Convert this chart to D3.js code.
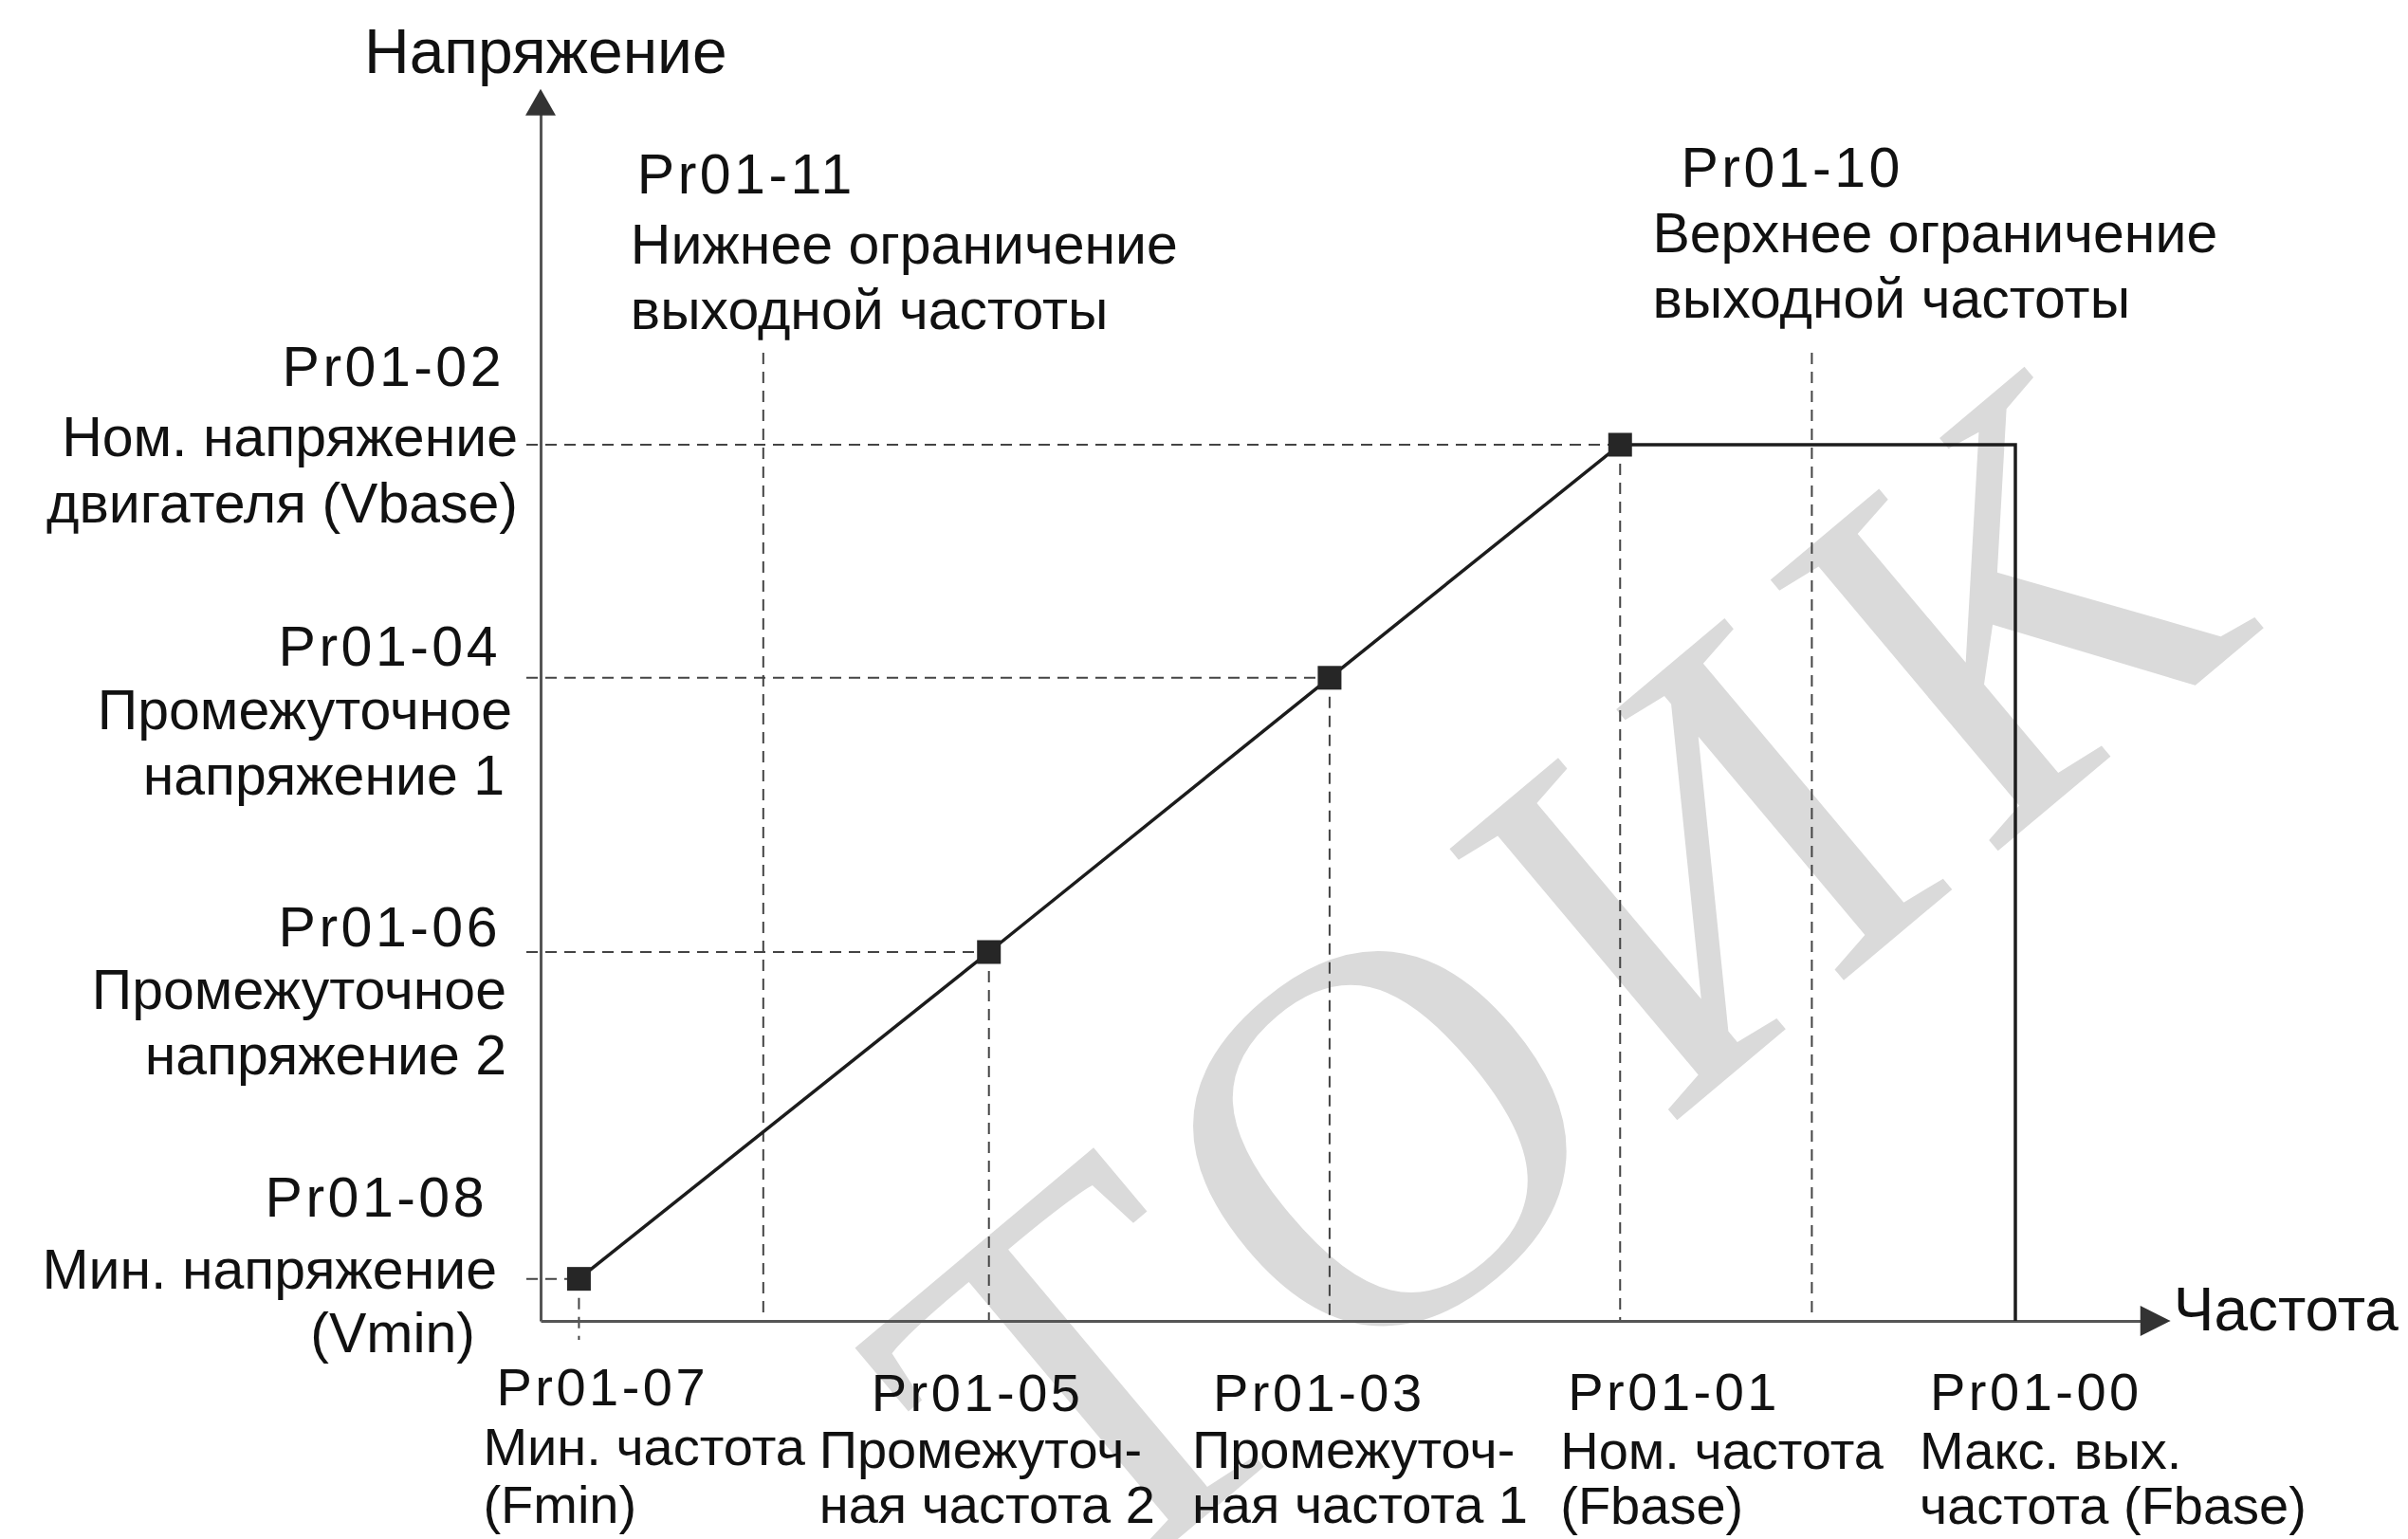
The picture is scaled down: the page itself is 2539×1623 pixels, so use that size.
<!DOCTYPE html>
<html lang="ru">
<head>
<meta charset="utf-8">
<title>Кривая V/f</title>
<script src="https://cdn.jsdelivr.net/npm/d3@7"></script>
<style>
  html, body { margin: 0; padding: 0; background: #ffffff; }
  svg { display: block; }
  text { font-family: "Liberation Sans", Arial, Helvetica, sans-serif; fill: #111; }
  .wm { font-family: "Liberation Serif", "Times New Roman", serif; fill: #dadada; }
</style>
</head>
<body>
<svg id="chart" width="2539" height="1623"></svg>
<script>
// ---- Data: V/f curve parameters (frequency in % of max output, voltage in % of Vbase) ----
const freqParams   = ["Pr01-07", "Pr01-05", "Pr01-03", "Pr01-01", "Pr01-00"];
const freqValues   = [2.6, 30.4, 53.5, 73.2, 100];
const freqLines2   = ["Мин. частота", "Промежуточ-", "Промежуточ-", "Ном. частота", "Макс. вых."];
const freqLines3   = ["(Fmin)", "ная частота 2", "ная частота 1", "(Fbase)", "частота (Fbase)"];

const voltParams   = ["Pr01-08", "Pr01-06", "Pr01-04", "Pr01-02"];
const voltValues   = [4.8, 42.1, 73.4, 100];
const voltLines2   = ["Мин. напряжение", "Промежуточное", "Промежуточное", "Ном. напряжение"];
const voltLines3   = ["(Vmin)", "напряжение 2", "напряжение 1", "двигателя (Vbase)"];

const limitParams  = ["Pr01-11", "Pr01-10"];
const limitValues  = [15.1, 86.2];
const limitLines2  = ["Нижнее ограничение", "Верхнее ограничение"];
const limitLines3  = ["выходной частоты", "выходной частоты"];

// Curve vertices: four set points, flat top to max frequency, then drop to zero
const curveFreq = [2.6, 30.4, 53.5, 73.2, 100, 100];
const curveVolt = [4.8, 42.1, 73.4, 100, 100, 0];

const axisTitleY = "Напряжение";
const axisTitleX = "Частота";
const axisEndX = 108.6;   // x-axis shaft length (domain units)
const axisEndY = 137.8;   // y-axis shaft length (domain units)
const limitTop = 110.5;   // limit guide lines start height (domain units)
const watermark = "ТОИК";

// ---- Layout ----
const svg = d3.select("#chart");
const x = d3.scaleLinear().domain([0, 100]).range([570, 2125]);
const y = d3.scaleLinear().domain([0, 100]).range([1393, 469]);

const LABEL_SIDE = 59, LABEL_BOTTOM = 56, TITLE = 66;

// watermark behind everything
svg.append("text")
  .attr("class", "wm")
  .attr("transform", "translate(1650,1035) rotate(-40)")
  .attr("text-anchor", "middle")
  .attr("dy", "0.33em")
  .attr("font-size", 570)
  .attr("letter-spacing", 30)
  .text(watermark);

const guides = svg.append("g")
  .attr("stroke", "#444")
  .attr("stroke-width", 2)
  .attr("stroke-dasharray", "12,8")
  .attr("fill", "none");

// horizontal guides from the voltage axis to each set point
voltValues.forEach((v, i) => {
  guides.append("line")
    .attr("x1", x(0) - 15).attr("x2", x(freqValues[i]))
    .attr("y1", y(v)).attr("y2", y(v));
});
// vertical guides from each set point down to the frequency axis
freqValues.slice(0, 4).forEach((f, i) => {
  guides.append("line")
    .attr("x1", x(f)).attr("x2", x(f))
    .attr("y1", y(voltValues[i])).attr("y2", y(0) + (i === 0 ? 20 : 0));
});
// frequency limit guides
limitValues.forEach(f => {
  guides.append("line")
    .attr("x1", x(f)).attr("x2", x(f))
    .attr("y1", y(limitTop)).attr("y2", y(0));
});

// axes drawn with d3 axis generators (no ticks), plus arrow heads
const xAxisScale = x.copy().domain([0, axisEndX]).range([x(0), x(axisEndX)]);
const yAxisScale = y.copy().domain([0, axisEndY]).range([y(0), y(axisEndY)]);

const gx = svg.append("g")
  .attr("transform", `translate(0,${y(0)})`)
  .call(d3.axisBottom(xAxisScale).tickValues([]).tickSizeOuter(0));
const gy = svg.append("g")
  .attr("transform", `translate(${x(0)},0)`)
  .call(d3.axisLeft(yAxisScale).tickValues([]).tickSizeOuter(0));
[gx, gy].forEach(g => g.select(".domain").attr("stroke", "#555").attr("stroke-width", 3));

const xe = x(axisEndX), ye = y(axisEndY);
svg.append("path")
  .attr("d", `M${xe - 2},${y(0) - 16}L${xe + 30},${y(0)}L${xe - 2},${y(0) + 16}Z`)
  .attr("fill", "#333");
svg.append("path")
  .attr("d", `M${x(0) - 16},${ye + 2}L${x(0)},${ye - 26}L${x(0) + 16},${ye + 2}Z`)
  .attr("fill", "#333");

// V/f curve
const pts = curveFreq.map((f, i) => [f, curveVolt[i]]);
svg.append("path")
  .datum(pts)
  .attr("fill", "none")
  .attr("stroke", "#1c1c1c")
  .attr("stroke-width", 3.5)
  .attr("stroke-linejoin", "miter")
  .attr("d", d3.line().x(d => x(d[0])).y(d => y(d[1])));

// set-point markers
const M = 25;
svg.append("g").selectAll("rect")
  .data(freqValues.slice(0, 4).map((f, i) => [f, voltValues[i]]))
  .join("rect")
  .attr("x", d => x(d[0]) - M / 2)
  .attr("y", d => y(d[1]) - M / 2)
  .attr("width", M).attr("height", M)
  .attr("fill", "#262626");

// ---- Text ----
// three-line label block: parameter code + two lines of description
function block(g, xs, ys, lines, anchor, size) {
  lines.forEach((t, k) => {
    g.append("text")
      .attr("x", xs[k])
      .attr("y", ys[k])
      .attr("text-anchor", anchor)
      .attr("font-size", size)
      .attr("letter-spacing", k === 0 ? 3.5 : 0)
      .text(t);
  });
}

// axis titles
svg.append("text").attr("x", 384).attr("y", 77)
  .attr("font-size", TITLE).text(axisTitleY);
svg.append("text").attr("x", xe + 33).attr("y", y(0) + 10)
  .attr("font-size", 64).text(axisTitleX);

// voltage labels (right aligned left of the axis)
const voltLayout = [
  { rx: [-56, -46, -69], dy: [-66, 10, 77] },
  { rx: [-42, -36, -36], dy: [-6, 60, 129] },
  { rx: [-42, -30, -38], dy: [-13, 54, 123] },
  { rx: [-38, -24, -24], dy: [-62, 12, 82] }
];
const vg = svg.append("g");
voltValues.forEach((v, i) => {
  const L = voltLayout[i];
  block(vg, L.rx.map(r => x(0) + r), L.dy.map(d => y(v) + d),
    [voltParams[i], voltLines2[i], voltLines3[i]], "end", LABEL_SIDE);
});

// frequency labels (below the axis)
const freqLayout = [
  { lx: [-87, -101, -101], by: [1482, 1545, 1606] },
  { lx: [-124, -179, -179], by: [1488, 1548, 1606] },
  { lx: [-123, -145, -145], by: [1488, 1548, 1606] },
  { lx: [-55, -63, -63], by: [1487, 1549, 1607] },
  { lx: [-90, -101, -101], by: [1487, 1549, 1607] }
];
const fg = svg.append("g");
freqValues.forEach((f, i) => {
  const L = freqLayout[i];
  block(fg, L.lx.map(d => x(f) + d), L.by,
    [freqParams[i], freqLines2[i], freqLines3[i]], "start", LABEL_BOTTOM);
});

// frequency limit labels (above the plot)
const limitLayout = [
  { lx: [-133, -140, -140], by: [204, 278, 347] },
  { lx: [-138, -168, -168], by: [197, 266, 335] }
];
const lg = svg.append("g");
limitValues.forEach((f, i) => {
  const L = limitLayout[i];
  block(lg, L.lx.map(d => x(f) + d), L.by,
    [limitParams[i], limitLines2[i], limitLines3[i]], "start", LABEL_SIDE);
});
</script>
</body>
</html>
